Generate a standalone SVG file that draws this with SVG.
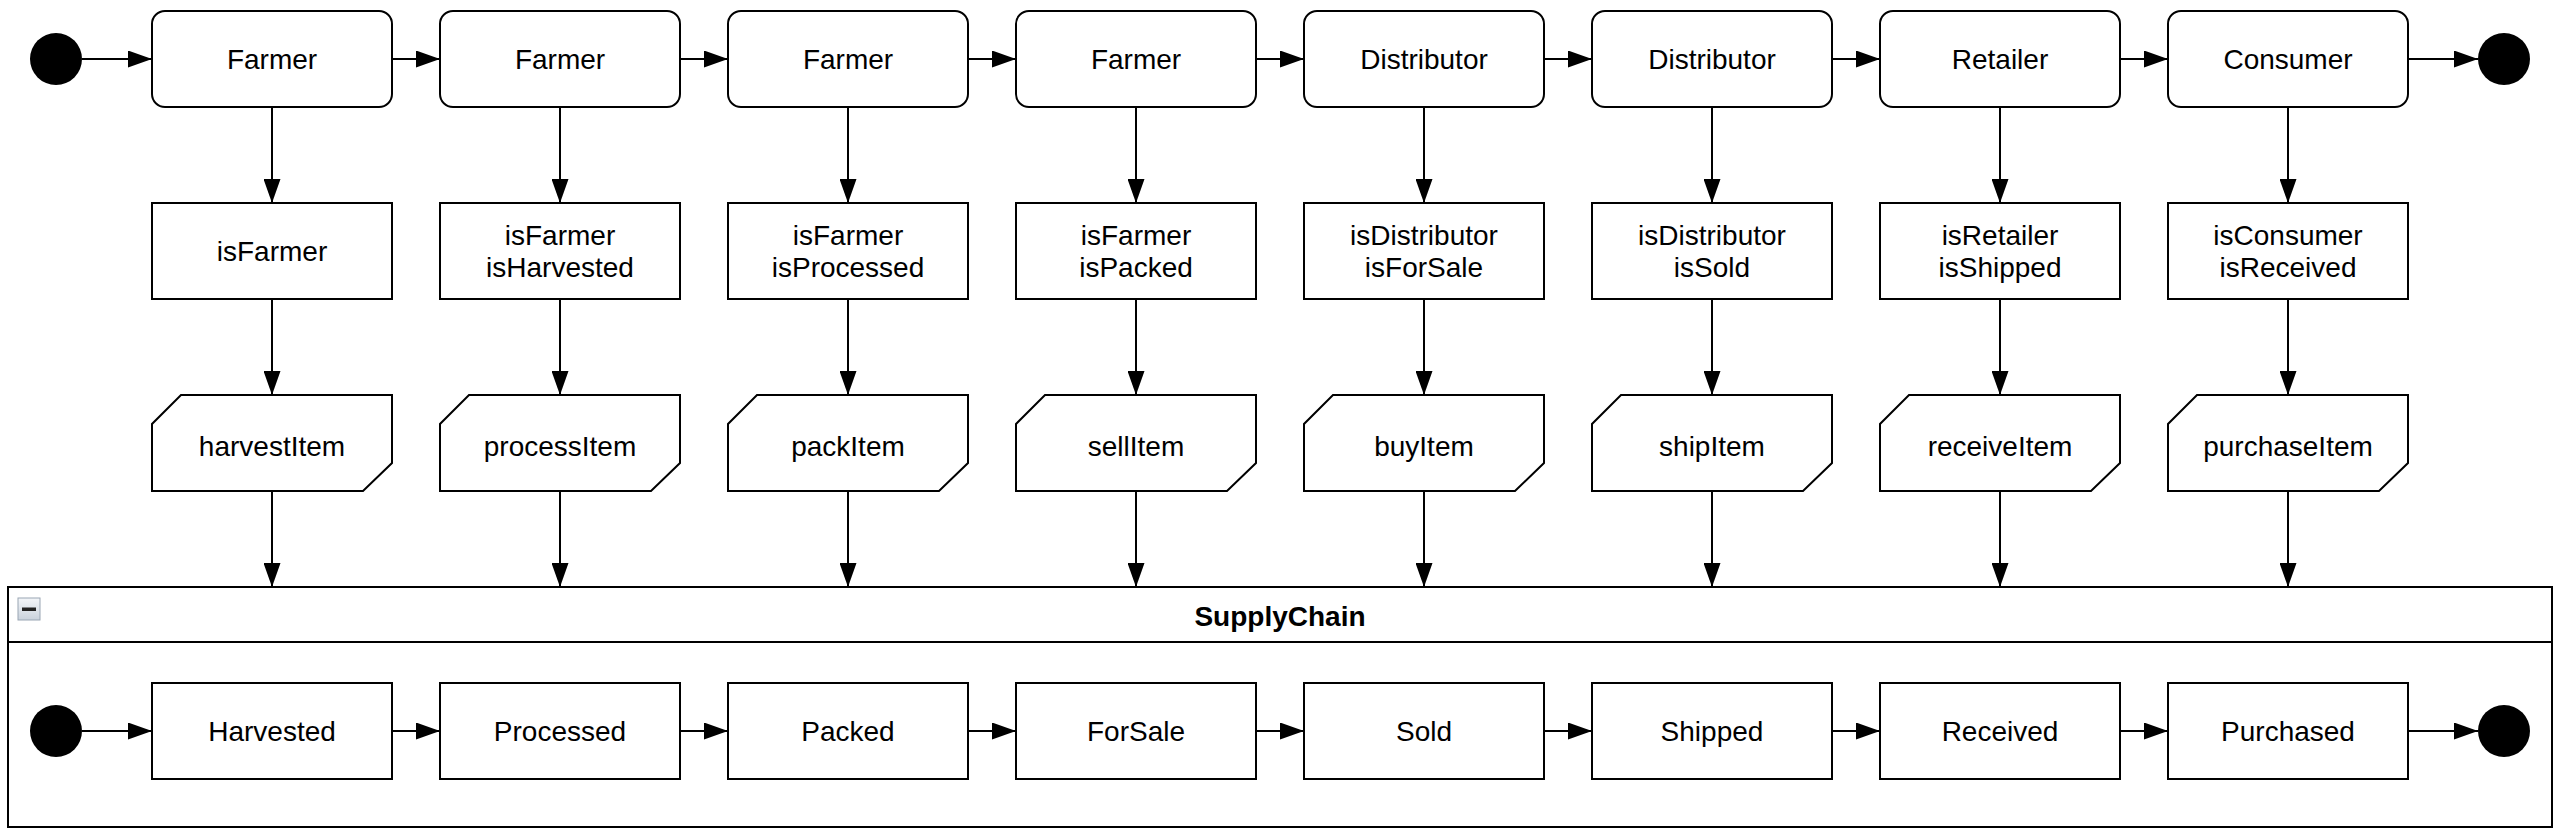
<svg xmlns="http://www.w3.org/2000/svg" width="2564" height="840" viewBox="0 0 2564 840">
<defs>
<marker id="ah" markerUnits="userSpaceOnUse" markerWidth="24" markerHeight="17" refX="24" refY="8.5" orient="auto">
<path d="M0,0 L24,8.5 L0,17 z" fill="#000"/>
</marker>
<linearGradient id="ig" x1="0" y1="0" x2="0" y2="1">
<stop offset="0" stop-color="#f4f6f9"/>
<stop offset="1" stop-color="#c9d2dc"/>
</linearGradient>
<style>
.box{fill:#fff;stroke:#000;stroke-width:2}
.dot{fill:#000}
.t{font-family:"Liberation Sans",Arial,sans-serif;font-size:28px;text-anchor:middle;fill:#000}
.b{font-weight:bold}
.c{fill:none;stroke:#000;stroke-width:2;marker-end:url(#ah)}
</style>
</defs>
<rect width="2564" height="840" fill="#fff"/>

<g id="container">
<rect class="box" x="8" y="587" width="2544" height="240"/>
<line x1="8" y1="642" x2="2552" y2="642" stroke="#000" stroke-width="2"/>
<rect x="18" y="598" width="22" height="22" fill="url(#ig)" stroke="#9aa6b4" stroke-width="1"/>
<rect x="22" y="607.5" width="14" height="3.5" fill="#222"/>
<text class="t b" x="1280" y="626">SupplyChain</text>
</g>

<g id="start-top"><circle class="dot" cx="56" cy="59" r="26"/></g>
<g id="end-top"><circle class="dot" cx="2504" cy="59" r="26"/></g>
<g id="start-inner"><circle class="dot" cx="56" cy="731" r="26"/></g>
<g id="end-inner"><circle class="dot" cx="2504" cy="731" r="26"/></g>

<g id="role-1"><rect class="box" x="152" y="11" width="240" height="96" rx="13"/><text class="t" x="272" y="69">Farmer</text></g>
<g id="role-2"><rect class="box" x="440" y="11" width="240" height="96" rx="13"/><text class="t" x="560" y="69">Farmer</text></g>
<g id="role-3"><rect class="box" x="728" y="11" width="240" height="96" rx="13"/><text class="t" x="848" y="69">Farmer</text></g>
<g id="role-4"><rect class="box" x="1016" y="11" width="240" height="96" rx="13"/><text class="t" x="1136" y="69">Farmer</text></g>
<g id="role-5"><rect class="box" x="1304" y="11" width="240" height="96" rx="13"/><text class="t" x="1424" y="69">Distributor</text></g>
<g id="role-6"><rect class="box" x="1592" y="11" width="240" height="96" rx="13"/><text class="t" x="1712" y="69">Distributor</text></g>
<g id="role-7"><rect class="box" x="1880" y="11" width="240" height="96" rx="13"/><text class="t" x="2000" y="69">Retailer</text></g>
<g id="role-8"><rect class="box" x="2168" y="11" width="240" height="96" rx="13"/><text class="t" x="2288" y="69">Consumer</text></g>

<g id="cond-1"><rect class="box" x="152" y="203" width="240" height="96"/><text class="t" x="272" y="261">isFarmer</text></g>
<g id="cond-2"><rect class="box" x="440" y="203" width="240" height="96"/><text class="t" x="560" y="245">isFarmer</text><text class="t" x="560" y="277">isHarvested</text></g>
<g id="cond-3"><rect class="box" x="728" y="203" width="240" height="96"/><text class="t" x="848" y="245">isFarmer</text><text class="t" x="848" y="277">isProcessed</text></g>
<g id="cond-4"><rect class="box" x="1016" y="203" width="240" height="96"/><text class="t" x="1136" y="245">isFarmer</text><text class="t" x="1136" y="277">isPacked</text></g>
<g id="cond-5"><rect class="box" x="1304" y="203" width="240" height="96"/><text class="t" x="1424" y="245">isDistributor</text><text class="t" x="1424" y="277">isForSale</text></g>
<g id="cond-6"><rect class="box" x="1592" y="203" width="240" height="96"/><text class="t" x="1712" y="245">isDistributor</text><text class="t" x="1712" y="277">isSold</text></g>
<g id="cond-7"><rect class="box" x="1880" y="203" width="240" height="96"/><text class="t" x="2000" y="245">isRetailer</text><text class="t" x="2000" y="277">isShipped</text></g>
<g id="cond-8"><rect class="box" x="2168" y="203" width="240" height="96"/><text class="t" x="2288" y="245">isConsumer</text><text class="t" x="2288" y="277">isReceived</text></g>

<g id="fn-1"><path class="box" d="M181,395 H392 V463 L363,491 H152 V424 Z"/><text class="t" x="272" y="456">harvestItem</text></g>
<g id="fn-2"><path class="box" d="M469,395 H680 V463 L651,491 H440 V424 Z"/><text class="t" x="560" y="456">processItem</text></g>
<g id="fn-3"><path class="box" d="M757,395 H968 V463 L939,491 H728 V424 Z"/><text class="t" x="848" y="456">packItem</text></g>
<g id="fn-4"><path class="box" d="M1045,395 H1256 V463 L1227,491 H1016 V424 Z"/><text class="t" x="1136" y="456">sellItem</text></g>
<g id="fn-5"><path class="box" d="M1333,395 H1544 V463 L1515,491 H1304 V424 Z"/><text class="t" x="1424" y="456">buyItem</text></g>
<g id="fn-6"><path class="box" d="M1621,395 H1832 V463 L1803,491 H1592 V424 Z"/><text class="t" x="1712" y="456">shipItem</text></g>
<g id="fn-7"><path class="box" d="M1909,395 H2120 V463 L2091,491 H1880 V424 Z"/><text class="t" x="2000" y="456">receiveItem</text></g>
<g id="fn-8"><path class="box" d="M2197,395 H2408 V463 L2379,491 H2168 V424 Z"/><text class="t" x="2288" y="456">purchaseItem</text></g>

<g id="state-1"><rect class="box" x="152" y="683" width="240" height="96"/><text class="t" x="272" y="741">Harvested</text></g>
<g id="state-2"><rect class="box" x="440" y="683" width="240" height="96"/><text class="t" x="560" y="741">Processed</text></g>
<g id="state-3"><rect class="box" x="728" y="683" width="240" height="96"/><text class="t" x="848" y="741">Packed</text></g>
<g id="state-4"><rect class="box" x="1016" y="683" width="240" height="96"/><text class="t" x="1136" y="741">ForSale</text></g>
<g id="state-5"><rect class="box" x="1304" y="683" width="240" height="96"/><text class="t" x="1424" y="741">Sold</text></g>
<g id="state-6"><rect class="box" x="1592" y="683" width="240" height="96"/><text class="t" x="1712" y="741">Shipped</text></g>
<g id="state-7"><rect class="box" x="1880" y="683" width="240" height="96"/><text class="t" x="2000" y="741">Received</text></g>
<g id="state-8"><rect class="box" x="2168" y="683" width="240" height="96"/><text class="t" x="2288" y="741">Purchased</text></g>

<g id="connectors">
<path class="c" d="M82,59 H152"/>
<path class="c" d="M392,59 H440"/>
<path class="c" d="M680,59 H728"/>
<path class="c" d="M968,59 H1016"/>
<path class="c" d="M1256,59 H1304"/>
<path class="c" d="M1544,59 H1592"/>
<path class="c" d="M1832,59 H1880"/>
<path class="c" d="M2120,59 H2168"/>
<path class="c" d="M2408,59 H2478"/>

<path class="c" d="M82,731 H152"/>
<path class="c" d="M392,731 H440"/>
<path class="c" d="M680,731 H728"/>
<path class="c" d="M968,731 H1016"/>
<path class="c" d="M1256,731 H1304"/>
<path class="c" d="M1544,731 H1592"/>
<path class="c" d="M1832,731 H1880"/>
<path class="c" d="M2120,731 H2168"/>
<path class="c" d="M2408,731 H2478"/>

<path class="c" d="M272,107 V203"/><path class="c" d="M272,299 V395"/><path class="c" d="M272,491 V587"/>
<path class="c" d="M560,107 V203"/><path class="c" d="M560,299 V395"/><path class="c" d="M560,491 V587"/>
<path class="c" d="M848,107 V203"/><path class="c" d="M848,299 V395"/><path class="c" d="M848,491 V587"/>
<path class="c" d="M1136,107 V203"/><path class="c" d="M1136,299 V395"/><path class="c" d="M1136,491 V587"/>
<path class="c" d="M1424,107 V203"/><path class="c" d="M1424,299 V395"/><path class="c" d="M1424,491 V587"/>
<path class="c" d="M1712,107 V203"/><path class="c" d="M1712,299 V395"/><path class="c" d="M1712,491 V587"/>
<path class="c" d="M2000,107 V203"/><path class="c" d="M2000,299 V395"/><path class="c" d="M2000,491 V587"/>
<path class="c" d="M2288,107 V203"/><path class="c" d="M2288,299 V395"/><path class="c" d="M2288,491 V587"/>
</g>
</svg>
